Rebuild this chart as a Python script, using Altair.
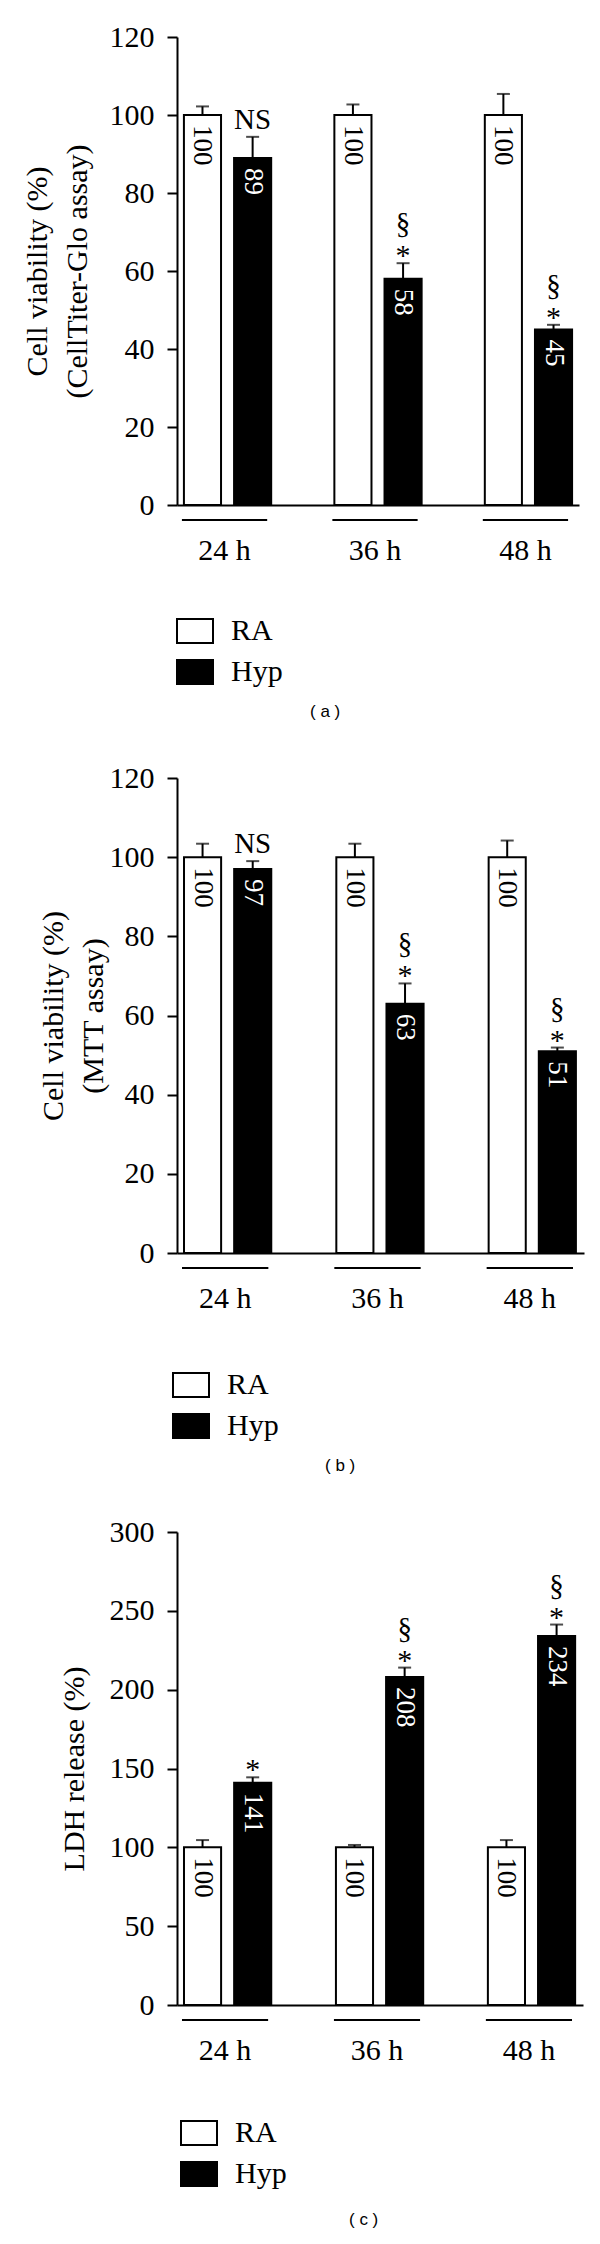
import altair as alt
import pandas as pd

# ---------------- data ----------------
times = ["24 h", "36 h", "48 h"]
groups = ["RA", "Hyp"]

a_ra = [100, 100, 100]
a_hyp = [89, 58, 45]
a_ra_err = [102.2, 102.7, 105.4]
a_hyp_err = [94.4, 62.0, 46.2]
a_ann_lo = ["NS", "*", "*"]
a_ann_hi = ["", "§", "§"]

b_ra = [100, 100, 100]
b_hyp = [97, 63, 51]
b_ra_err = [103.4, 103.4, 104.2]
b_hyp_err = [99.0, 68.1, 51.9]
b_ann_lo = ["NS", "*", "*"]
b_ann_hi = ["", "§", "§"]

c_ra = [100, 100, 100]
c_hyp = [141, 208, 234]
c_ra_err = [104.6, 101.5, 104.6]
c_hyp_err = [144.4, 214.0, 241.3]
c_ann_lo = ["*", "*", "*"]
c_ann_hi = ["", "§", "§"]

SERIF = "Liberation Serif"


def make_df(ra, hyp, ra_err, hyp_err, ann_lo, ann_hi):
    rows = []
    for i, t in enumerate(times):
        rows.append({"time": t, "group": "RA", "value": ra[i], "err": ra_err[i],
                     "label": str(ra[i]), "lo": "", "hi": ""})
        rows.append({"time": t, "group": "Hyp", "value": hyp[i], "err": hyp_err[i],
                     "label": str(hyp[i]), "lo": ann_lo[i], "hi": ann_hi[i]})
    return pd.DataFrame(rows)


def panel(df, ymax, ystep, width, height, title, title_pad, legend_x, legend_y,
          caption, cap_dx, cap_offset):
    xaxis = alt.Axis(title=None, labelAngle=0, ticks=False, tickSize=0,
                     labelFont=SERIF, labelFontSize=30, labelColor="black",
                     labelPadding=30, labelOffset=-3,
                     domainColor="black", domainWidth=2)
    xscale = alt.Scale(domain=times, paddingInner=0.42, paddingOuter=0.046)
    X = alt.X("time:N", sort=times, scale=xscale, axis=xaxis)
    XO = alt.XOffset("group:N", sort=groups,
                     scale=alt.Scale(domain=groups, paddingInner=0.26, paddingOuter=0))
    yaxis = alt.Axis(values=list(range(0, ymax + 1, ystep)), title=title,
                     titleFont=SERIF, titleFontSize=30, titleFontWeight="normal",
                     titleColor="black", titleLineHeight=40, titlePadding=title_pad,
                     labelFont=SERIF, labelFontSize=30, labelColor="black",
                     labelPadding=13, tickSize=10, tickWidth=2, tickColor="black",
                     domainColor="black", domainWidth=2, grid=False)
    yscale = alt.Scale(domain=[0, ymax], nice=False)
    Yv = alt.Y("value:Q", scale=yscale, axis=yaxis)
    Ye = alt.Y("err:Q", scale=yscale, axis=yaxis)

    legend = alt.Legend(title=None, orient="none", legendX=legend_x, legendY=legend_y,
                        direction="vertical", symbolType="M-1,-0.667H1V0.667H-1Z",
                        symbolSize=1296, symbolStrokeColor="black", symbolStrokeWidth=2,
                        labelFont=SERIF, labelFontSize=30, labelColor="black",
                        labelOffset=17, rowPadding=5, symbolOpacity=1)

    base = alt.Chart(df)
    bars = base.mark_bar(stroke="black", strokeWidth=2).encode(
        x=X, xOffset=XO, y=Yv,
        fill=alt.Fill("group:N", sort=groups,
                      scale=alt.Scale(domain=groups, range=["white", "black"]),
                      legend=legend),
    )
    err_line = base.mark_rule(color="black", strokeWidth=2).encode(
        x=X, xOffset=XO, y=Yv, y2="err:Q")
    err_cap = base.mark_tick(color="black", orient="horizontal", size=13,
                             thickness=2).encode(x=X, xOffset=XO, y=Ye)
    labels = base.mark_text(angle=90, align="left", baseline="middle", dx=10,
                            font=SERIF, fontSize=27).encode(
        x=X, xOffset=XO, y=Yv, text="label:N",
        color=alt.condition("datum.group == 'Hyp'", alt.value("white"), alt.value("black")),
    )
    ns = base.transform_filter("datum.lo == 'NS'").mark_text(
        baseline="alphabetic", font=SERIF, fontSize=29, dy=-8, color="black").encode(
        x=X, xOffset=XO, y=Ye, text="lo:N")
    star = base.transform_filter("datum.lo == '*'").mark_text(
        baseline="alphabetic", font=SERIF, fontSize=30, dy=2, color="black").encode(
        x=X, xOffset=XO, y=Ye, text="lo:N")
    sect = base.transform_filter("datum.hi != ''").mark_text(
        baseline="alphabetic", font=SERIF, fontSize=29, dy=-30, color="black").encode(
        x=X, xOffset=XO, y=Ye, text="hi:N")
    underline = alt.Chart(pd.DataFrame({"time": times})).mark_rule(
        color="black", strokeWidth=2, xOffset=-2, x2Offset=-4).encode(
        x=alt.X("time:N", sort=times, scale=xscale, axis=xaxis, bandPosition=0),
        x2=alt.X2("time", bandPosition=1),
        y=alt.value(height + 15),
    )
    return alt.layer(bars, err_line, err_cap, labels, ns, star, sect, underline).properties(
        width=width, height=height,
        title=alt.TitleParams(text=caption, orient="bottom", anchor="start", frame="group",
                              font="Liberation Sans", fontSize=17, fontWeight="normal",
                              color="black", offset=cap_offset, dx=cap_dx),
    )


pa = panel(make_df(a_ra, a_hyp, a_ra_err, a_hyp_err, a_ann_lo, a_ann_hi), 120, 20, 402, 468,
           ["Cell viability (%)", "(CellTiter-Glo assay)"], 17, -1, 575, "( a )", 133, 15)
pb = panel(make_df(b_ra, b_hyp, b_ra_err, b_hyp_err, b_ann_lo, b_ann_hi), 120, 20, 407, 475,
           ["Cell viability (%)", "(MTT assay)"], 1, -5, 588, "( b )", 148, 15)
pc = panel(make_df(c_ra, c_hyp, c_ra_err, c_hyp_err, c_ann_lo, c_ann_hi), 300, 50, 406, 473,
           "LDH release (%)", 20, 3, 582, "( c )", 172, 21)

chart = alt.vconcat(pa, pb, pc, spacing=43).resolve_scale(
    fill="independent", x="independent", y="independent"
).resolve_legend(fill="independent").configure_view(stroke=None).properties(
    padding={"left": 14, "top": 14, "right": 5, "bottom": 0}
)

chart.save("out.html", embed_options={"renderer": "svg", "actions": False})
